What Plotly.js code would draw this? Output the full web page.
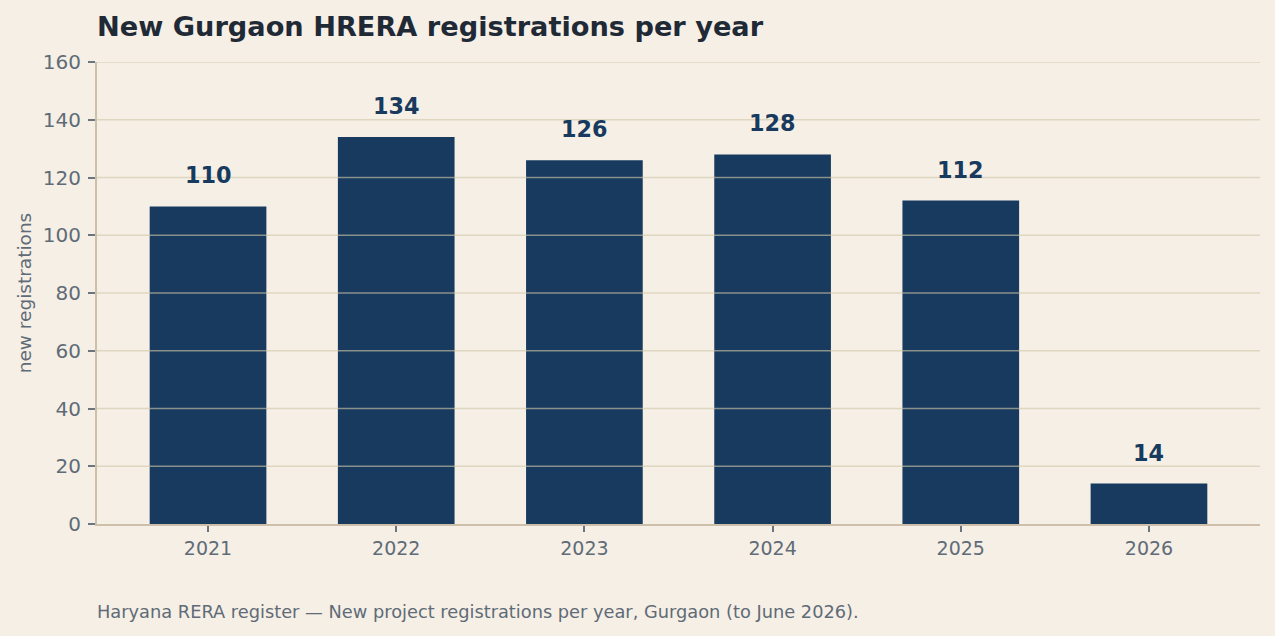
<!DOCTYPE html>
<html>
<head>
<meta charset="utf-8">
<script src="https://cdn.plot.ly/plotly-3.0.1.min.js"></script>
<style>
html,body{margin:0;padding:0;background:#f5efe6;}
#chart{width:1275px;height:636px;}
</style>
</head>
<body>
<div id="chart"></div>
<script>
const years = ['2021', '2022', '2023', '2024', '2025', '2026'];
const registrations = [110, 134, 126, 128, 112, 14];
const yTicks = [0, 20, 40, 60, 80, 100, 120, 140, 160];

const FONT = 'DejaVu Sans, sans-serif';
const BAR = '#173a5e';
const GRID = 'rgba(210,198,168,0.62)';

const trace = {
  type: 'bar',
  x: years,
  y: registrations,
  width: 0.62,
  marker: {color: BAR},
  hoverinfo: 'x+y'
};

const annotations = registrations.map((v, i) => ({
  x: i, y: v, xref: 'x', yref: 'y',
  text: '<b>' + v + '</b>', showarrow: false,
  yanchor: 'bottom', yshift: 16,
  font: {family: FONT, size: 22.3, color: BAR}
}));
annotations.push({
  xref: 'paper', yref: 'paper', x: 0, y: 0, xanchor: 'left', yanchor: 'top',
  yshift: -75, xshift: -2,
  text: 'Haryana RERA register — New project registrations per year, Gurgaon (to June 2026).',
  showarrow: false, font: {family: FONT, size: 17.8, color: '#5f6b76'}
});

const shapes = yTicks.filter(t => t > 0).map(t => ({
  type: 'line', xref: 'paper', yref: 'y', x0: 0, x1: 1, y0: t, y1: t,
  layer: 'above', line: {color: GRID, width: 1.5}
}));

const layout = {
  width: 1275, height: 636,
  paper_bgcolor: '#f5efe6', plot_bgcolor: '#f5efe6',
  margin: {l: 97, r: 15, t: 62, b: 112},
  font: {family: FONT, color: '#5f6b76'},
  title: {
    text: '<b>New Gurgaon HRERA registrations per year</b>',
    x: 97/1275, xanchor: 'left', y: 1 - 26/636, yanchor: 'middle',
    font: {family: FONT, size: 27.2, color: '#1f2a36'}
  },
  showlegend: false,
  xaxis: {
    type: 'category', range: [-0.59, 5.59],
    showgrid: false, showline: true, linecolor: '#cdbfa9', linewidth: 2,
    ticks: 'outside', ticklen: 6, tickcolor: '#6b7580', tickwidth: 2,
    tickfont: {family: FONT, size: 19, color: '#5f6b76'},
    zeroline: false
  },
  yaxis: {
    range: [0, 160], tickvals: yTicks,
    showgrid: false, showline: true, linecolor: '#cdbfa9', linewidth: 2,
    ticks: 'outside', ticklen: 7, tickcolor: '#6b7580', tickwidth: 2,
    ticklabelstandoff: 3,
    tickfont: {family: FONT, size: 20, color: '#5f6b76'},
    zeroline: false,
    title: {text: 'new registrations', standoff: 6, font: {family: FONT, size: 18.5, color: '#5f6b76'}}
  },
  annotations: annotations,
  shapes: shapes
};

Plotly.newPlot('chart', [trace], layout, {displayModeBar: false, staticPlot: true});
</script>
</body>
</html>
